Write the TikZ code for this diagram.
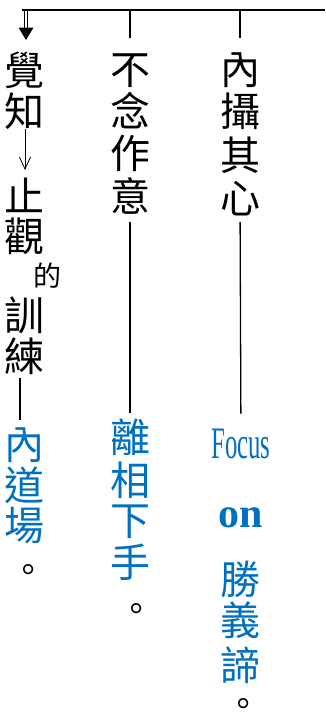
\documentclass[tikz,border=0pt]{standalone}
\usepackage{fontspec}
\newfontfamily\cjk{Noto Sans CJK TC}
\newfontfamily\latinserif{Liberation Serif}
\usetikzlibrary{arrows.meta}
\definecolor{wordblue}{RGB}{0,112,192}
\tikzset{
  ch/.style={font=\cjk\fontsize{40}{40}\selectfont, inner sep=0pt, outer sep=0pt, text height=35pt, text depth=5pt},
  smallch/.style={font=\cjk\fontsize{28}{28}\selectfont, inner sep=0pt, outer sep=0pt, text height=24.5pt, text depth=3.5pt},
  stopch/.style={font=\cjk\fontsize{34}{34}\selectfont, inner sep=0pt, outer sep=0pt, text height=5pt, text depth=5pt},
  bl/.style={text=wordblue},
  link/.style={line width=1.3pt, draw=black},
  bus/.style={line width=2pt, draw=black},
  twin/.style={line width=0.9pt, draw=black},
}
\newcommand{\fullstop}{\raisebox{-12.75pt}{\smash{。}}}
\begin{document}
\begin{tikzpicture}[x=1pt,y=-1pt]
\useasboundingbox (0,0) rectangle (325,715);
% bus
\coordinate (bstart) at (22,10);
\coordinate (bend) at (325,10);
\coordinate (b1) at (26,10);
\coordinate (b2) at (130,10);
\coordinate (b3) at (240,10);
\coordinate (c1tip) at (26,40);
\draw[bus] (bstart) -- (bend);

% column 1
\node[ch] (c1a) at (25,70) {覺};
\node[ch] (c1b) at (25,111) {知};
\node[ch] (c1c) at (25,196) {止};
\node[ch] (c1d) at (25,236) {觀};
\node[smallch] (c1e) at (47,276) {的};
\node[ch] (c1f) at (25,315) {訓};
\node[ch] (c1g) at (25,356) {練};
\node[ch,bl] (c1h) at (25,444) {內};
\node[ch,bl] (c1i) at (25,485) {道};
\node[ch,bl] (c1j) at (25,525) {場};
\node[stopch] (c1k) at (28,570) {\fullstop};

% column 2
\node[ch] (c2a) at (130,69) {不};
\node[ch] (c2b) at (130,111) {念};
\node[ch] (c2c) at (130,153) {作};
\node[ch] (c2d) at (130,196) {意};
\node[ch,bl] (c2e) at (130,437) {離};
\node[ch,bl] (c2f) at (130,480) {相};
\node[ch,bl] (c2g) at (130,520) {下};
\node[ch,bl] (c2h) at (130,562) {手};
\node[stopch] (c2i) at (136,609) {\fullstop};

% column 3
\node[ch] (c3a) at (240,69) {內};
\node[ch] (c3b) at (240,111) {攝};
\node[ch] (c3c) at (240,155) {其};
\node[ch] (c3d) at (240,198) {心};
\node[anchor=base, inner sep=0pt, outer sep=0pt, text=wordblue, xscale=0.55,
      font=\latinserif\fontsize{45}{45}\selectfont] (c3e) at (241,458) {Focus};
\node[anchor=base, inner sep=0pt, outer sep=0pt, text=wordblue,
      font=\latinserif\bfseries\fontsize{42}{42}\selectfont] (c3f) at (241,527) {on};
\node[ch,bl] (c3g) at (240,579) {勝};
\node[ch,bl] (c3h) at (240,620) {義};
\node[ch,bl] (c3i) at (240,665) {諦};
\node[stopch] (c3j) at (243,704) {\fullstop};

% connectors
\draw[twin] ([xshift=-1.6pt]b1) -- ([xshift=-1.6pt,yshift=11pt]c1tip);
\draw[twin] ([xshift=1.6pt]b1) -- ([xshift=1.6pt,yshift=11pt]c1tip);
\fill[black] (c1tip) -- ([xshift=-7.5pt,yshift=12.5pt]c1tip) -- ([xshift=7.5pt,yshift=12.5pt]c1tip) -- cycle;
\draw[line width=0.8pt, -{Straight Barb[length=12pt,width=11pt]}, shorten <=-2pt, shorten >=6pt] (c1b) -- (c1c);
\draw[link, shorten <=2pt, shorten >=4pt] ([xshift=-5pt]c1g.south) -- ([xshift=-5pt]c1h.north);

\draw[link, shorten >=11pt] (b2) -- (c2a);
\draw[link, shorten <=6pt, shorten >=4pt] (c2d) -- (c2e);

\draw[link, shorten >=11pt] (b3) -- (c3a);
\draw[link, shorten <=4pt, shorten >=15pt] (c3d) -- (c3e);
\end{tikzpicture}
\end{document}
